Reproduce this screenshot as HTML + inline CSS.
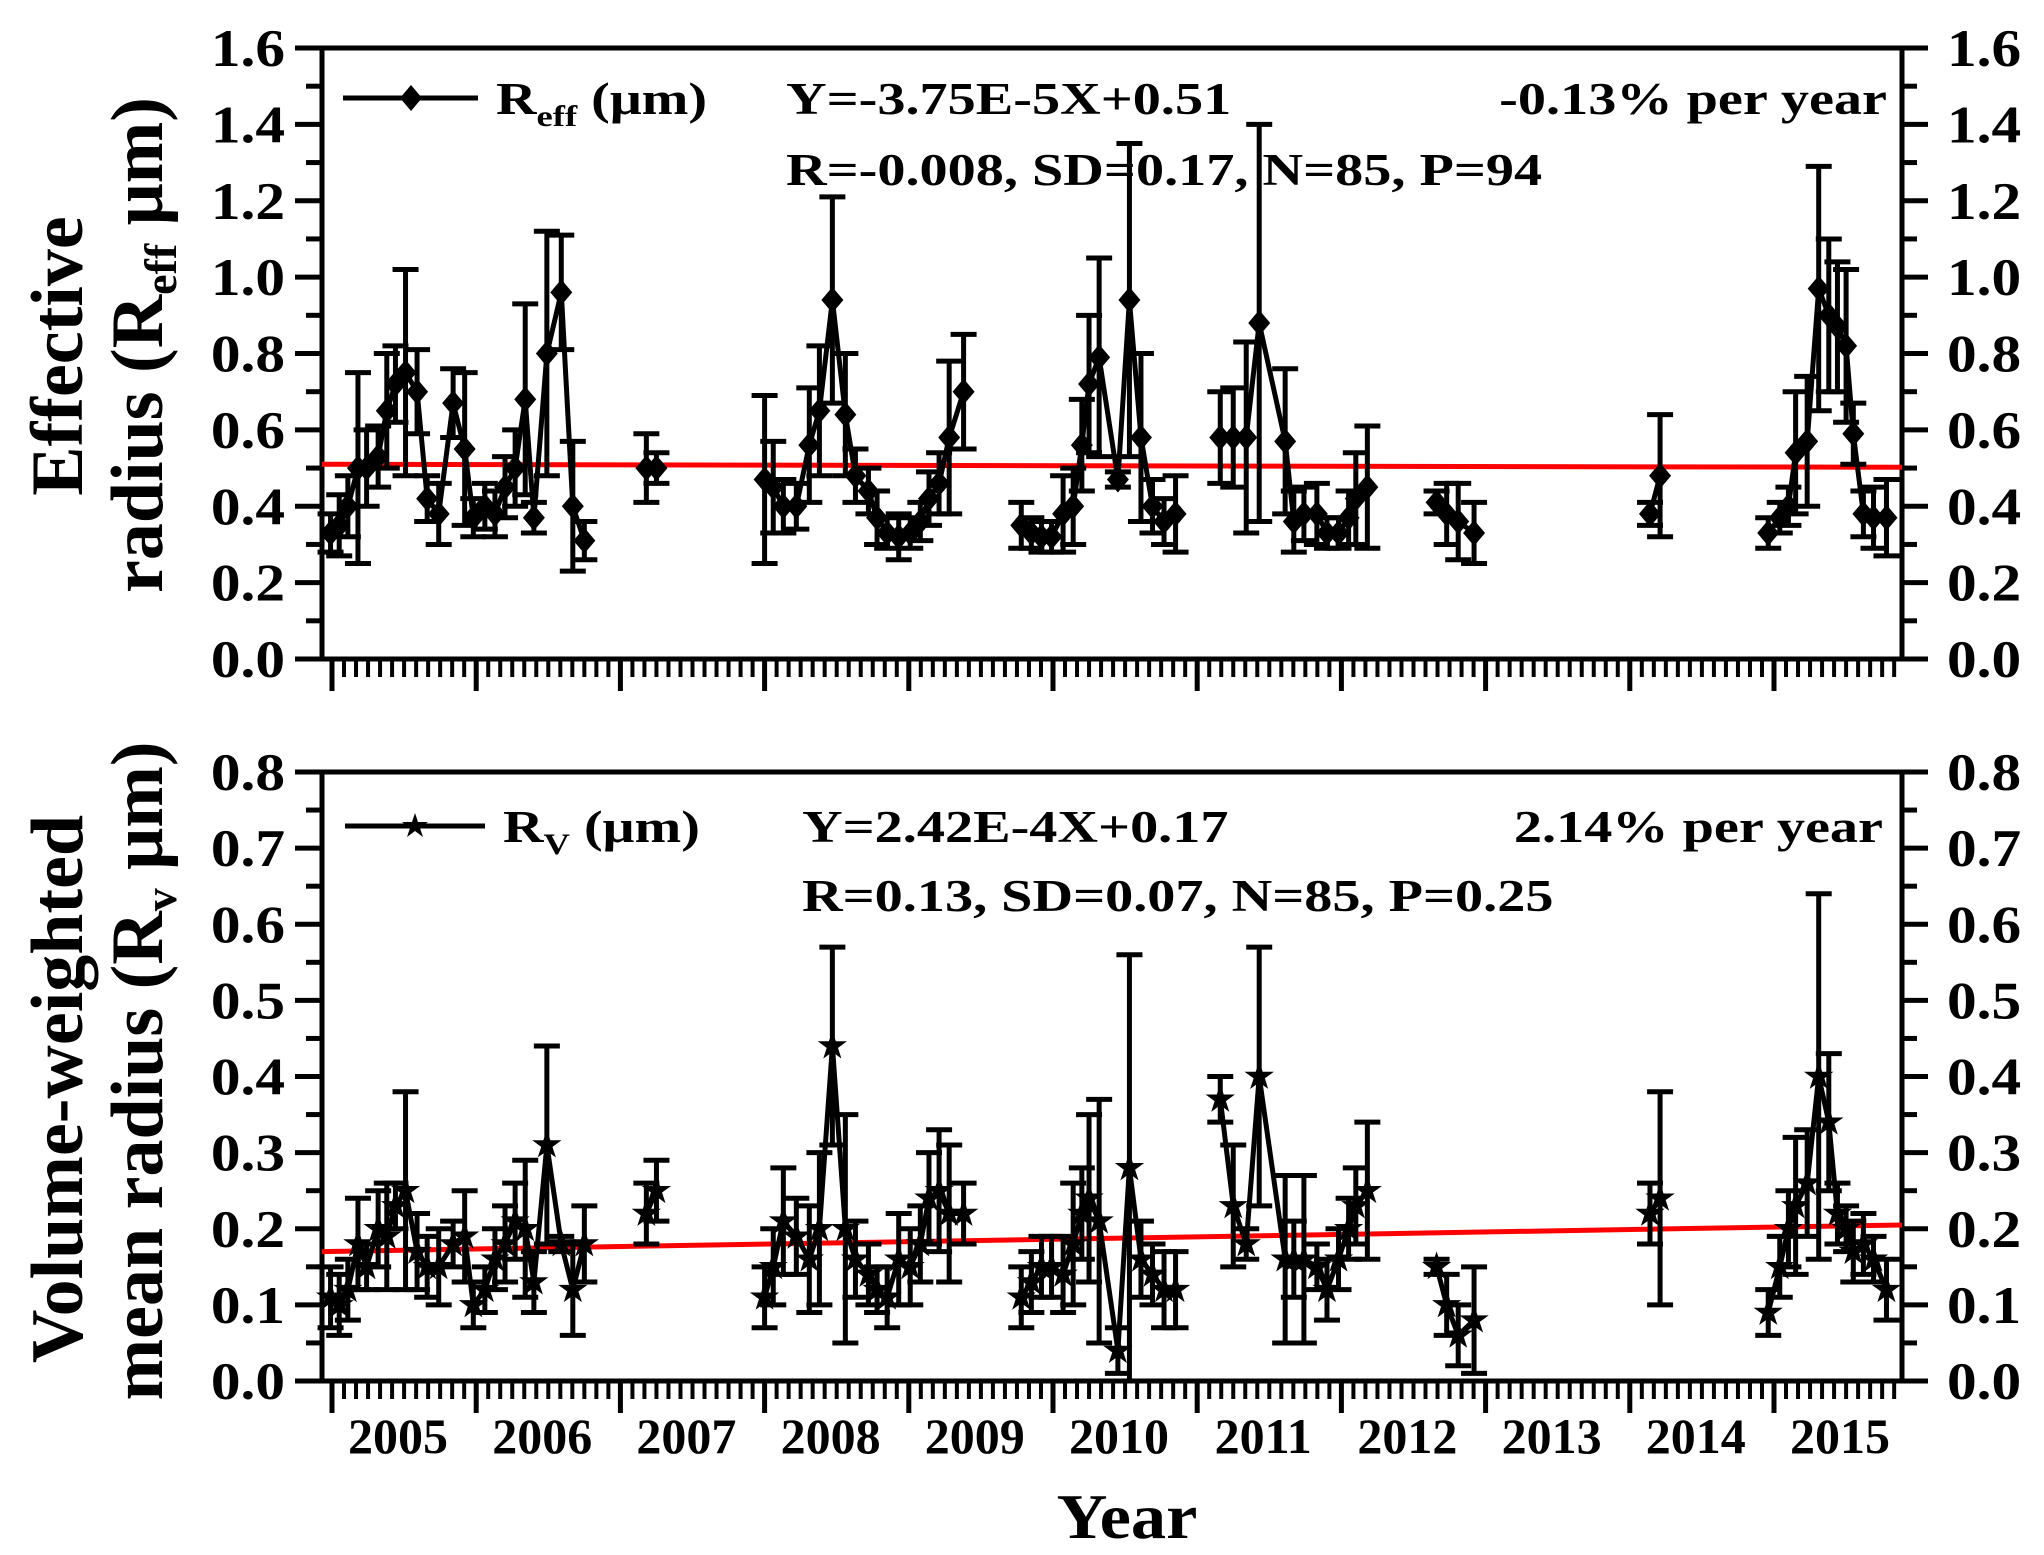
<!DOCTYPE html>
<html><head><meta charset="utf-8"><style>
html,body{margin:0;padding:0;background:#fff;}
svg{display:block;font-family:"Liberation Serif",serif;font-weight:bold;}
svg text{font-family:"Liberation Serif",serif;font-weight:bold;}
</style></head><body>
<svg id="chart" width="2044" height="1555" viewBox="0 0 2044 1555" xmlns="http://www.w3.org/2000/svg">
<rect width="2044" height="1555" fill="#fff"/>
<g id="g"></g>
</svg>
<script>
const years = [2004.99,2005.05,2005.11,2005.18,2005.24,2005.32,2005.38,2005.44,2005.51,2005.59,2005.66,2005.74,2005.84,2005.92,2005.98,2006.06,2006.13,2006.20,2006.27,2006.34,2006.40,2006.49,2006.59,2006.67,2006.75,2007.18,2007.25,2008.00,2008.06,2008.13,2008.22,2008.31,2008.38,2008.47,2008.56,2008.63,2008.72,2008.78,2008.85,2008.93,2009.01,2009.08,2009.14,2009.21,2009.28,2009.38,2009.78,2009.85,2009.92,2009.99,2010.07,2010.14,2010.20,2010.25,2010.32,2010.45,2010.53,2010.61,2010.69,2010.77,2010.85,2011.16,2011.25,2011.34,2011.43,2011.61,2011.67,2011.74,2011.83,2011.90,2011.98,2012.05,2012.10,2012.18,2012.66,2012.73,2012.81,2012.92,2014.14,2014.21,2014.96,2015.04,2015.10,2015.15,2015.23,2015.31,2015.38,2015.44,2015.50,2015.55,2015.62,2015.69,2015.78];
const reffValues = [0.33,0.35,0.40,0.50,0.50,0.53,0.65,0.72,0.75,0.70,0.42,0.38,0.67,0.55,0.37,0.40,0.38,0.45,0.50,0.68,0.37,0.80,0.96,0.40,0.31,0.50,0.50,0.47,0.45,0.40,0.40,0.56,0.65,0.94,0.64,0.48,0.44,0.37,0.33,0.32,0.33,0.36,0.42,0.46,0.58,0.70,0.35,0.33,0.32,0.32,0.38,0.40,0.56,0.72,0.79,0.47,0.94,0.58,0.40,0.36,0.38,0.58,0.58,0.58,0.88,0.57,0.36,0.38,0.38,0.33,0.33,0.37,0.42,0.45,0.41,0.38,0.36,0.33,0.38,0.48,0.33,0.37,0.40,0.54,0.57,0.97,0.90,0.87,0.82,0.59,0.38,0.37,0.37];
const reffErrors = [0.05,0.08,0.08,0.25,0.10,0.08,0.15,0.10,0.27,0.11,0.06,0.08,0.09,0.20,0.05,0.06,0.06,0.08,0.10,0.25,0.04,0.32,0.15,0.17,0.05,0.09,0.04,0.22,0.12,0.07,0.06,0.15,0.17,0.27,0.16,0.07,0.06,0.07,0.04,0.06,0.04,0.05,0.07,0.08,0.20,0.15,0.06,0.04,0.04,0.04,0.10,0.10,0.12,0.18,0.26,0.02,0.41,0.22,0.07,0.06,0.10,0.12,0.13,0.25,0.52,0.19,0.08,0.07,0.08,0.04,0.04,0.07,0.12,0.16,0.03,0.08,0.10,0.08,0.03,0.16,0.04,0.04,0.05,0.16,0.17,0.32,0.20,0.17,0.20,0.08,0.06,0.08,0.10];
const rvValues = [0.11,0.10,0.12,0.18,0.15,0.20,0.19,0.23,0.25,0.17,0.15,0.15,0.18,0.19,0.10,0.12,0.16,0.18,0.21,0.20,0.13,0.31,0.18,0.12,0.18,0.22,0.25,0.11,0.15,0.21,0.19,0.16,0.20,0.44,0.20,0.16,0.14,0.12,0.11,0.16,0.15,0.18,0.24,0.25,0.22,0.22,0.11,0.13,0.15,0.15,0.14,0.18,0.22,0.24,0.21,0.04,0.28,0.16,0.14,0.12,0.12,0.37,0.23,0.18,0.40,0.16,0.16,0.16,0.15,0.12,0.16,0.20,0.23,0.25,0.15,0.10,0.06,0.08,0.22,0.24,0.09,0.15,0.20,0.23,0.26,0.40,0.34,0.22,0.20,0.17,0.18,0.16,0.12];
const rvErrors = [0.04,0.04,0.04,0.06,0.03,0.05,0.07,0.03,0.13,0.05,0.04,0.05,0.03,0.06,0.03,0.03,0.04,0.05,0.05,0.09,0.04,0.13,0.01,0.06,0.05,0.04,0.04,0.04,0.05,0.07,0.05,0.07,0.10,0.13,0.15,0.05,0.04,0.03,0.04,0.06,0.05,0.05,0.06,0.08,0.09,0.04,0.04,0.04,0.04,0.04,0.05,0.08,0.06,0.11,0.16,0.03,0.28,0.05,0.04,0.05,0.05,0.03,0.08,0.02,0.17,0.11,0.05,0.11,0.03,0.04,0.04,0.04,0.05,0.09,0.01,0.04,0.04,0.07,0.04,0.14,0.03,0.04,0.05,0.09,0.07,0.24,0.09,0.04,0.03,0.04,0.04,0.03,0.04];
const yearLabels = ["2005","2006","2007","2008","2009","2010","2011","2012","2013","2014","2015"];
const topTicks = ["0.0","0.2","0.4","0.6","0.8","1.0","1.2","1.4","1.6"];
const bottomTicks = ["0.0","0.1","0.2","0.3","0.4","0.5","0.6","0.7","0.8"];
const topTrend = [0.51, 0.502];
const bottomTrend = [0.170, 0.205];

const NS="http://www.w3.org/2000/svg";
const G=document.getElementById('g');
const X0=322,X1=1902,Y2005=332,YW=144.2;
const xs=y=>Y2005+(y-2005)*YW;
const XMIN=2005+(X0-Y2005)/YW, XMAX=2005+(X1-Y2005)/YW;
function mk(tag,attrs,parent){const e=document.createElementNS(NS,tag);for(const k in attrs)e.setAttribute(k,attrs[k]);(parent||G).appendChild(e);return e;}

function panel(cfg){
  const {top,bot,max,ticks,vals,errs,trend,marker,name}=cfg;
  const ys=v=>bot-(v/max)*(bot-top);
  const grp=mk('g',{});
  
  
  let e=mk('line',{x1:295,y1:top,x2:1928,y2:top,stroke:'#000','stroke-width':5},grp);
  
  e=mk('line',{x1:X0,y1:top,x2:X0,y2:bot,stroke:'#000','stroke-width':5},grp);
  
  e=mk('line',{x1:X1,y1:top,x2:X1,y2:bot,stroke:'#000','stroke-width':5},grp);
  
  e=mk('line',{x1:295,y1:bot,x2:1928,y2:bot,stroke:'#000','stroke-width':5},grp);
  
  const n=ticks.length-1;
  for(let i=0;i<=2*n;i++){
    const v=max*i/(2*n), y=ys(v), major=i%2==0;
    mk('line',{x1:major?295:306,y1:y,x2:X0,y2:y,stroke:'#000','stroke-width':5},grp);
    mk('line',{x1:X1,y1:y,x2:major?1928:1917,y2:y,stroke:'#000','stroke-width':5},grp);
    if(major){
      const lab=ticks[i/2];
      let t=mk('text',{transform:`translate(285,${y+18}) scale(1.12,1)`,'text-anchor':'end','font-size':53},grp);t.textContent=lab;
      
      t=mk('text',{transform:`translate(1947,${y+18}) scale(1.12,1)`,'text-anchor':'start','font-size':53},grp);t.textContent=lab;
      
    }
  }
  for(let m=Math.ceil(XMIN*12);m<=XMAX*12;m++){
    const x=xs(m/12), major=m%12==0;
    mk('line',{x1:x,y1:bot,x2:x,y2:bot+(major?32:18),stroke:'#000','stroke-width':major?5:4},grp);
  }
  e=mk('line',{x1:X0,y1:ys(trend[0]),x2:X1,y2:ys(trend[1]),stroke:'#ff0000','stroke-width':5},grp);
  
  let seg=[];
  const flush=()=>{if(seg.length>1){const p=mk('polyline',{points:seg.join(' '),fill:'none',stroke:'#000','stroke-width':5,'stroke-linejoin':'round'},grp);}seg=[];};
  for(let i=0;i<years.length;i++){
    if(i>0&&years[i]-years[i-1]>0.25)flush();
    seg.push(xs(years[i]).toFixed(1)+','+ys(vals[i]).toFixed(1));
  }
  flush();
  for(let i=0;i<years.length;i++){
    const x=xs(years[i]),y=ys(vals[i]),y1=ys(vals[i]+errs[i]),y2=ys(Math.max(0,vals[i]-errs[i]));
    const eb=mk('path',{d:`M${x},${y1}V${y2}M${x-13},${y1}H${x+13}M${x-13},${y2}H${x+13}`,stroke:'#000','stroke-width':5,fill:'none'},grp);
    
    
    const mkEl=marker(x,y,grp);
    
    
  }
}
function diamond(x,y,p){return mk('polygon',{points:`${x},${y-13} ${x+11},${y} ${x},${y+13} ${x-11},${y}`,fill:'#000'},p);}
function star(x,y,p){let pts=[];for(let k=0;k<10;k++){const r=k%2?5:13,a=-Math.PI/2+k*Math.PI/5;pts.push((x+r*Math.cos(a)).toFixed(1)+','+(y+r*Math.sin(a)).toFixed(1));}return mk('polygon',{points:pts.join(' '),fill:'#000',stroke:'#000','stroke-width':1.5},p);}

panel({top:48,bot:659,max:1.6,ticks:topTicks,vals:reffValues,errs:reffErrors,trend:topTrend,marker:diamond,name:'reff'});
panel({top:772,bot:1381,max:0.8,ticks:bottomTicks,vals:rvValues,errs:rvErrors,trend:bottomTrend,marker:star,name:'rv'});

yearLabels.forEach((l,i)=>{
  const t=mk('text',{x:xs(2005+i)+66,y:1453,'text-anchor':'middle','font-size':50});
  t.textContent=l;
  
  
});
</script>
<svg style="position:absolute;left:0;top:0" width="2044" height="1555" xmlns="http://www.w3.org/2000/svg">
<g style="font-family:'Liberation Serif',serif;font-weight:bold">
<text transform="translate(1127,1538) scale(1.1,1)" text-anchor="middle" font-size="64">Year</text>
<text transform="translate(82,356) rotate(-90)" text-anchor="middle" font-size="74">Effective</text>
<text transform="translate(162,345) rotate(-90)" text-anchor="middle" font-size="74">radius (R<tspan font-size="46" dy="14">eff</tspan><tspan dy="-14"> μm)</tspan></text>
<text transform="translate(82,1089) rotate(-90)" text-anchor="middle" font-size="74">Volume-weighted</text>
<text transform="translate(162,1071) rotate(-90)" text-anchor="middle" font-size="74">mean radius (R<tspan font-size="46" dy="14">v</tspan><tspan dy="-14"> μm)</tspan></text>
<g>
<line x1="343" y1="98" x2="478" y2="98" stroke="#000" stroke-width="5"/>
<polygon points="411,85 422,98 411,111 400,98" fill="#000"/>
<text transform="translate(496,114) scale(1.22,1)" font-size="46">R<tspan font-size="30" dy="12">eff</tspan><tspan dy="-12"> (μm)</tspan></text>
</g>
<text transform="translate(786,114) scale(1.25,1)" font-size="45">Y=-3.75E-5X+0.51</text>
<text transform="translate(786,185) scale(1.25,1)" font-size="45">R=-0.008, SD=0.17, N=85, P=94</text>
<text transform="translate(1887,114) scale(1.25,1)" text-anchor="end" font-size="45">-0.13% per year</text>
<g>
<line x1="345" y1="826" x2="485" y2="826" stroke="#000" stroke-width="5"/>
<polygon points="415,813 418,822 428,822 420,828 423,837 415,831 407,837 410,828 402,822 412,822" fill="#000"/>
<text transform="translate(503,842) scale(1.22,1)" font-size="46">R<tspan font-size="30" dy="12">V</tspan><tspan dy="-12"> (μm)</tspan></text>
</g>
<text transform="translate(802,842) scale(1.25,1)" font-size="45">Y=2.42E-4X+0.17</text>
<text transform="translate(802,911) scale(1.25,1)" font-size="45">R=0.13, SD=0.07, N=85, P=0.25</text>
<text transform="translate(1883,842) scale(1.25,1)" text-anchor="end" font-size="45">2.14% per year</text>
</g>
</svg>
</body></html>
